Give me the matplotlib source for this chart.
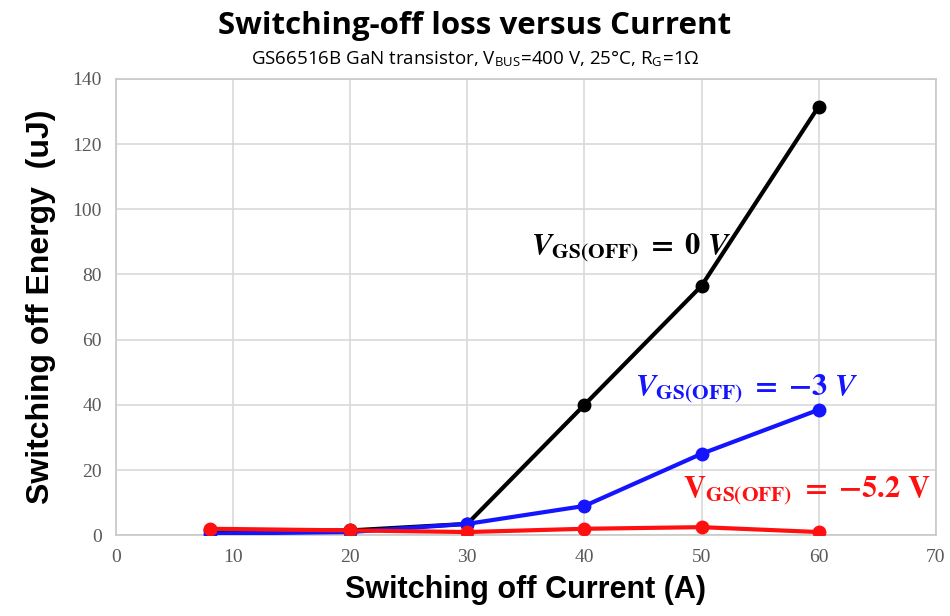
import matplotlib.pyplot as plt

# Data
current = [8, 20, 30, 40, 50, 60]
e_0v = [1.5, 1.5, 3.5, 40, 76.5, 131.5]
e_3v = [0.5, 1.0, 3.5, 9.0, 25.0, 38.5]
e_52v = [2.0, 1.5, 1.0, 2.0, 2.5, 1.0]

x_ticks = [0, 10, 20, 30, 40, 50, 60, 70]
y_ticks = [0, 20, 40, 60, 80, 100, 120, 140]

plt.rcParams['mathtext.fontset'] = 'stix'

fig = plt.figure(figsize=(9.5, 6.16), dpi=100)
ax = fig.add_axes([0.122, 0.131, 0.863, 0.741])

# Grid and frame
ax.grid(True, color='#d9d9d9', linewidth=1.2, zorder=0)
for s in ax.spines.values():
    s.set_color('#c8c8c8')
    s.set_linewidth(1.2)

# Series
ax.plot(current, e_0v, color='black', lw=3, marker='o', ms=9, zorder=3)
ax.plot(current, e_3v, color='#1414ff', lw=3, marker='o', ms=9, zorder=4)
ax.plot(current, e_52v, color='#ff1010', lw=3, marker='o', ms=9, zorder=5)

ax.set_xlim(0, 70)
ax.set_ylim(0, 140)
ax.set_xticks(x_ticks)
ax.set_yticks(y_ticks)
ax.tick_params(length=0, pad=10, labelsize=14, labelcolor='#595959')
for lab in ax.get_xticklabels() + ax.get_yticklabels():
    lab.set_family('Liberation Serif')

ax.set_xlabel('Switching off Current (A)', fontsize=22, weight='bold',
              family='Liberation Sans', labelpad=6)
ax.set_ylabel('Switching off Energy  (uJ)', fontsize=23, weight='bold',
              family='Liberation Sans', labelpad=12)

# Curve labels
ax.text(35.4, 88, r'$\mathbfit{V}_{\mathbf{GS(OFF)}}\ \mathbf{=\ 0}\ \mathbfit{V}$',
        fontsize=22, color='black', va='center', ha='left', zorder=6)
ax.text(44.3, 45, r'$\mathbfit{V}_{\mathbf{GS(OFF)}}\ \mathbf{=\ {-}3}\ \mathbfit{V}$',
        fontsize=22, color='#1414ff', va='center', ha='left', zorder=6)
ax.text(48.4, 13.5, r'$\mathbf{V}_{\mathbf{GS(OFF)}}\ \mathbf{=\ {-}5.2\ V}$',
        fontsize=22, color='#ff1010', va='center', ha='left', zorder=6)

# Title and subtitle
fig.text(0.5, 0.958, 'Switching-off loss versus Current', ha='center', va='center',
         fontsize=22.5, weight='bold', family='Open Sans')
fig.text(0.5, 0.905,
         r'GS66516B GaN transistor, V$_{\mathregular{BUS}}$=400 V, 25°C, R$_{\mathregular{G}}$=1Ω',
         ha='center', va='center', fontsize=13.5, family='Open Sans')

fig.savefig('out.png', dpi=100, facecolor='white')
